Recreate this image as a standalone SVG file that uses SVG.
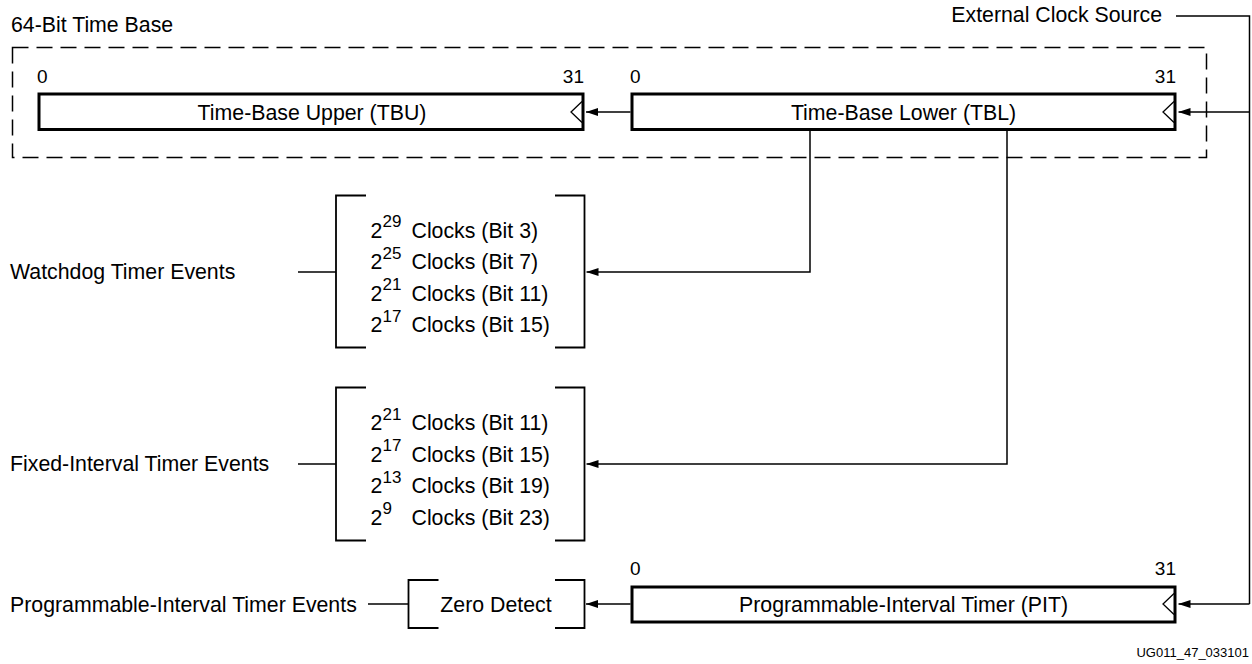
<svg xmlns="http://www.w3.org/2000/svg" width="1252" height="664" viewBox="0 0 1252 664">
<style>
text{font-family:"Liberation Sans",Arial,sans-serif;fill:#000}
.t{font-size:21.3px}
.b{font-size:19px}
.s{font-size:17px}
.sm{font-size:13px}
.reg{fill:#fff;stroke:#000;stroke-width:3}
.clk{fill:none;stroke:#000;stroke-width:1.3}
.br{fill:none;stroke:#000;stroke-width:1.8}
.ln{fill:none;stroke:#000;stroke-width:1.5}
.dash{fill:none;stroke:#000;stroke-width:1.5;stroke-dasharray:16 8}
</style>
<defs>
<marker id="ah" viewBox="0 0 12 8" refX="12" refY="4" markerWidth="12" markerHeight="8" markerUnits="userSpaceOnUse" orient="auto">
<path d="M0,0 L12,4 L0,8 Z" fill="#000"/>
</marker>
</defs>

<text class="t" x="11" y="31.5">64-Bit Time Base</text>
<rect class="dash" x="12.5" y="47.5" width="1194" height="110"/>

<g id="tbu">
<text class="b" x="37" y="83">0</text>
<text class="b" x="584" y="83" text-anchor="end">31</text>
<rect class="reg" x="39" y="94" width="544" height="35.5"/>
<polyline class="clk" points="582,101.5 571,112 582,122.5"/>
<text class="t" x="312" y="119.5" text-anchor="middle">Time-Base Upper (TBU)</text>
</g>

<g id="tbl">
<text class="b" x="630" y="83">0</text>
<text class="b" x="1176" y="83" text-anchor="end">31</text>
<rect class="reg" x="632" y="94" width="543" height="35.5"/>
<polyline class="clk" points="1174,101.5 1163,112 1174,122.5"/>
<text class="t" x="903.5" y="119.5" text-anchor="middle">Time-Base Lower (TBL)</text>
</g>

<g id="ext">
<text class="t" x="1162" y="22" text-anchor="end">External Clock Source</text>
</g>

<g id="watchdog">
<text class="t" x="10" y="279">Watchdog Timer Events</text>
<path class="br" d="M366,195.5 H336 V347.5 H366 M555,195.5 H584.5 V347.5 H555"/>
<text class="t" x="370.5" y="237.5">2</text><text class="s" x="382.5" y="227">29</text><text class="t" x="411.5" y="237.5">Clocks (Bit 3)</text>
<text class="t" x="370.5" y="269">2</text><text class="s" x="382.5" y="258.5">25</text><text class="t" x="411.5" y="269">Clocks (Bit 7)</text>
<text class="t" x="370.5" y="300.5">2</text><text class="s" x="382.5" y="290">21</text><text class="t" x="411.5" y="300.5">Clocks (Bit 11)</text>
<text class="t" x="370.5" y="332">2</text><text class="s" x="382.5" y="321.5">17</text><text class="t" x="411.5" y="332">Clocks (Bit 15)</text>
</g>

<g id="fixed">
<text class="t" x="10" y="471">Fixed-Interval Timer Events</text>
<path class="br" d="M366,387.5 H336 V540.5 H366 M555,387.5 H584.5 V540.5 H555"/>
<text class="t" x="370.5" y="430">2</text><text class="s" x="382.5" y="419.5">21</text><text class="t" x="411.5" y="430">Clocks (Bit 11)</text>
<text class="t" x="370.5" y="461.5">2</text><text class="s" x="382.5" y="451">17</text><text class="t" x="411.5" y="461.5">Clocks (Bit 15)</text>
<text class="t" x="370.5" y="493">2</text><text class="s" x="382.5" y="482.5">13</text><text class="t" x="411.5" y="493">Clocks (Bit 19)</text>
<text class="t" x="370.5" y="524.5">2</text><text class="s" x="382.5" y="514">9</text><text class="t" x="411.5" y="524.5">Clocks (Bit 23)</text>
</g>

<g id="pitevents">
<text class="t" x="10" y="611.5">Programmable-Interval Timer Events</text>
</g>

<g id="zero">
<path class="br" d="M438.5,580 H408.5 V628 H438.5 M555,580 H584.5 V628 H555"/>
<text class="t" x="496" y="612" text-anchor="middle">Zero Detect</text>
</g>

<g id="pit">
<text class="b" x="630" y="575">0</text>
<text class="b" x="1176" y="575" text-anchor="end">31</text>
<rect class="reg" x="632" y="587" width="543" height="35"/>
<polyline class="clk" points="1174,593.5 1163,604 1174,614.5"/>
<text class="t" x="903.5" y="611.5" text-anchor="middle">Programmable-Interval Timer (PIT)</text>
</g>

<text class="sm" x="1249" y="657" text-anchor="end">UG011_47_033101</text>

<g id="connectors">
<path class="ln" d="M630.5,112 H586" marker-end="url(#ah)"/>
<path class="ln" d="M1176,16 H1249.5 V604"/>
<path class="ln" d="M1249.5,112 H1178.5" marker-end="url(#ah)"/>
<path class="ln" d="M1249.5,604 H1178.5" marker-end="url(#ah)"/>
<path class="ln" d="M810,131 V272 H586.5" marker-end="url(#ah)"/>
<path class="ln" d="M1007,131 V464 H586.5" marker-end="url(#ah)"/>
<path class="ln" d="M298,272 H336"/>
<path class="ln" d="M298,464 H336"/>
<path class="ln" d="M368,604 H408.5"/>
<path class="ln" d="M630.5,604 H586" marker-end="url(#ah)"/>
</g>
</svg>
